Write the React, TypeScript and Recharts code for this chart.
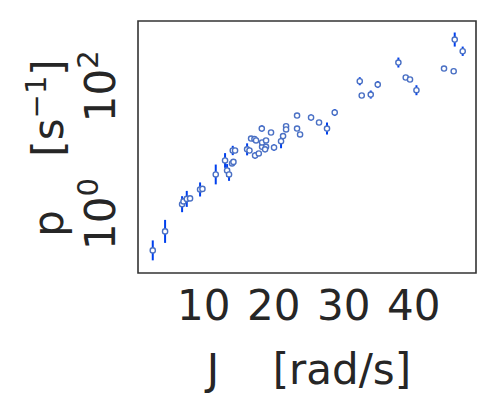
import { ScatterChart, Scatter, XAxis, YAxis, ErrorBar, ReferenceArea } from 'recharts';

// J [rad/s]
const jValues = [
  2.71, 4.47, 6.9, 7.1, 7.57, 8.04, 9.47, 9.81, 11.71, 13.04,
  13.33, 13.61, 14.04, 14.24, 14.14, 14.47, 16.19, 16.53, 17.33, 17.86,
  18.33, 18.9, 18.76, 20.04, 21.04, 18.33, 16.76, 17.24, 17.47, 18.9,
  21.33, 18.29, 19.61, 21.76, 21.76, 23.33, 23.76, 23.33, 25.33, 26.47,
  27.61, 28.71, 32.29, 32.57, 33.86, 34.86, 37.81, 38.86, 39.47, 40.39,
  44.33, 45.71, 45.86, 47.0,
];
// p [s^-1]
const pValues = [
  0.271, 0.537, 1.43, 1.58, 1.73, 1.76, 2.43, 2.48, 4.17, 6.9,
  4.82, 4.17, 6.2, 6.56, 9.89, 9.89, 10.3, 9.89, 8.26, 8.88,
  11.3, 11.3, 10.3, 11.0, 13.8, 13.2, 15.2, 14.9, 14.2, 14.2,
  16.6, 21.8, 18.9, 23.7, 21.1, 21.8, 17.6, 34.8, 32.4, 27.1,
  21.8, 38.8, 119.7, 71.6, 74.1, 106.3, 234.6, 136.8, 127.4, 86.6,
  189, 171.5, 536.9, 352.4,
];
// half-width of the error bar, in decades
const pErrDecades = [
  0.156, 0.18, 0.125, 0.03, 0.125, 0.03, 0.11, 0.03, 0.155, 0.115,
  0.1, 0.1, 0.03, 0.03, 0.073, 0.03, 0.094, 0.03, 0.05, 0.03,
  0.04, 0.03, 0.03, 0.05, 0.11, 0.03, 0.03, 0.03, 0.03, 0.03,
  0.03, 0.05, 0.03, 0.03, 0.03, 0.03, 0.03, 0.03, 0.047, 0.03,
  0.094, 0.055, 0.063, 0.03, 0.063, 0.055, 0.078, 0.03, 0.03, 0.078,
  0.03, 0.04, 0.11, 0.073,
];

const xTicks = [10, 20, 30, 40];
const yTicks = [1, 100];

const data = jValues.map((j, i) => {
  const p = pValues[i];
  const f = Math.pow(10, pErrDecades[i]);
  return { j, p, err: [p - p / f, p * f - p] };
});

const textColor = '#262626';
const font = 'DejaVu Sans';
const fontSize = 42;

const XTick = (props: any) => (
  <text x={props.x} y={320} textAnchor="middle" fill={textColor} fontFamily={font} fontSize={fontSize}>
    {props.payload.value}
  </text>
);

const YTick = (props: any) => {
  const exp = Math.round(Math.log10(props.payload.value));
  return (
    <text
      transform={`translate(115, ${props.y}) rotate(-90)`}
      textAnchor="middle"
      fill={textColor}
      fontFamily={font}
      fontSize={fontSize}
    >
      10<tspan dy={-17} fontSize={29}>{exp}</tspan>
    </text>
  );
};

const XLabel = () => (
  <text x={309} y={384} textAnchor="middle" fill={textColor} fontFamily={font} fontSize={fontSize}
    style={{ whiteSpace: 'pre' }}>
    {'J    [rad/s]'}
  </text>
);

const YLabel = () => (
  <text transform="translate(63, 148) rotate(-90)" textAnchor="middle" fill={textColor}
    fontFamily={font} fontSize={fontSize} style={{ whiteSpace: 'pre' }}>
    {'p    [s'}<tspan dy={-17} fontSize={29}>{'\u22121'}</tspan><tspan dy={17}>]</tspan>
  </text>
);

const Dot = (props: any) => (
  <circle cx={props.cx} cy={props.cy} r={2.6} fill="#ffffff" stroke="#4a70c4" strokeWidth={1.4} />
);

export default function App() {
  return (
    <div style={{ position: 'absolute', left: 0, top: 0, background: '#fff' }}>
      <ScatterChart width={500} height={400} margin={{ top: 21, right: 24, bottom: 0, left: 0 }}>
        <XAxis type="number" dataKey="j" domain={[0.6, 48.9]} ticks={xTicks} allowDataOverflow
          axisLine={false} tickLine={false} height={127} tick={<XTick />} label={<XLabel />} />
        <YAxis type="number" dataKey="p" scale="log" domain={[0.12, 1047]} ticks={yTicks} allowDataOverflow
          axisLine={false} tickLine={false} width={138} tick={<YTick />} label={<YLabel />} />
        <ReferenceArea x1={0.6} x2={48.9} y1={0.12} y2={1047} fill="none" stroke="#333333" strokeWidth={1.6}
          ifOverflow="visible" />
        <Scatter data={data} shape={<Dot />} isAnimationActive={false}>
          <ErrorBar dataKey="err" direction="y" width={0} stroke="#0040ee" strokeWidth={2} isAnimationActive={false} />
        </Scatter>
      </ScatterChart>
    </div>
  );
}
